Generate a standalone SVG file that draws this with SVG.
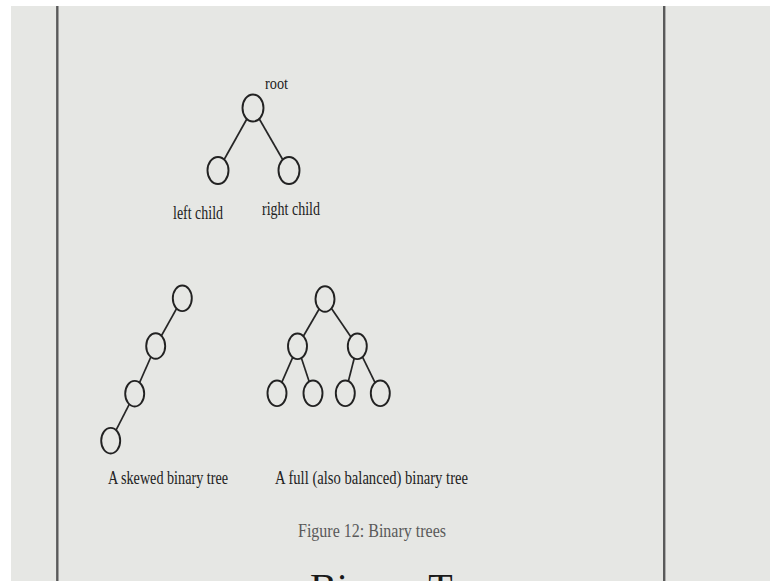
<svg xmlns="http://www.w3.org/2000/svg" width="770" height="581" viewBox="0 0 770 581">
<style>
.bg{fill:#e6e7e4}
.n{fill:#e6e7e4;stroke:#222222;stroke-width:1.9}
.e{stroke:#262626;stroke-width:1.7;fill:none}
.t{font-family:"Liberation Serif","Times New Roman",serif;fill:#222222}
.rule{stroke:#5a5a5a;stroke-width:2.4}
</style>
<rect width="770" height="581" fill="#ffffff"/>
<rect x="11" y="6" width="759" height="575" class="bg"/>
<line class="rule" x1="57.3" y1="6" x2="57.3" y2="581"/>
<line class="rule" x1="664.2" y1="6" x2="664.2" y2="581"/>

<g id="connectors">
  <line class="e" x1="253" y1="108" x2="218" y2="170.5"/>
  <line class="e" x1="253" y1="108" x2="289" y2="170.5"/>
  <line class="e" x1="182.3" y1="298.3" x2="155.7" y2="346"/>
  <line class="e" x1="155.7" y1="346" x2="134.7" y2="393.7"/>
  <line class="e" x1="134.7" y1="393.7" x2="110.7" y2="440.7"/>
  <line class="e" x1="325" y1="299" x2="297.5" y2="346.3"/>
  <line class="e" x1="325" y1="299" x2="357.3" y2="346.3"/>
  <line class="e" x1="297.5" y1="346.3" x2="277" y2="393.3"/>
  <line class="e" x1="297.5" y1="346.3" x2="313" y2="393.3"/>
  <line class="e" x1="357.3" y1="346.3" x2="345.3" y2="393.3"/>
  <line class="e" x1="357.3" y1="346.3" x2="380.3" y2="393.3"/>
</g>

<g id="root"><ellipse class="n" cx="253" cy="108" rx="10.5" ry="13.5"/><text class="t" x="265" y="89" font-size="16" textLength="23" lengthAdjust="spacingAndGlyphs">root</text></g>
<g id="left-child"><ellipse class="n" cx="218" cy="170.5" rx="10.5" ry="13.5"/><text class="t" x="173" y="219" font-size="19" textLength="50" lengthAdjust="spacingAndGlyphs">left child</text></g>
<g id="right-child"><ellipse class="n" cx="289" cy="170.5" rx="10.5" ry="13.5"/><text class="t" x="262" y="215" font-size="19" textLength="58" lengthAdjust="spacingAndGlyphs">right child</text></g>

<g id="skew-1"><ellipse class="n" cx="182.3" cy="298.3" rx="9.5" ry="12.8"/></g>
<g id="skew-2"><ellipse class="n" cx="155.7" cy="346" rx="9.5" ry="12.8"/></g>
<g id="skew-3"><ellipse class="n" cx="134.7" cy="393.7" rx="9.5" ry="12.8"/></g>
<g id="skew-4"><ellipse class="n" cx="110.7" cy="440.7" rx="9.5" ry="12.8"/></g>

<g id="full-root"><ellipse class="n" cx="325" cy="299" rx="9.5" ry="12.8"/></g>
<g id="full-l"><ellipse class="n" cx="297.5" cy="346.3" rx="9.5" ry="12.8"/></g>
<g id="full-r"><ellipse class="n" cx="357.3" cy="346.3" rx="9.5" ry="12.8"/></g>
<g id="full-ll"><ellipse class="n" cx="277" cy="393.3" rx="9.5" ry="12.8"/></g>
<g id="full-lr"><ellipse class="n" cx="313" cy="393.3" rx="9.5" ry="12.8"/></g>
<g id="full-rl"><ellipse class="n" cx="345.3" cy="393.3" rx="9.5" ry="12.8"/></g>
<g id="full-rr"><ellipse class="n" cx="380.3" cy="393.3" rx="9.5" ry="12.8"/></g>

<g id="captions">
  <text class="t" x="108" y="484" font-size="18" textLength="120" lengthAdjust="spacingAndGlyphs">A skewed binary tree</text>
  <text class="t" x="275" y="484" font-size="18" textLength="193" lengthAdjust="spacingAndGlyphs">A full (also balanced) binary tree</text>
  <text class="t" x="298" y="537" font-size="18" textLength="148" lengthAdjust="spacingAndGlyphs" style="fill:#5a5a5a">Figure 12: Binary trees</text>
  <text class="t" x="310" y="600.5" font-size="40" style="fill:#1a1a1a">Binary T</text>
</g>
</svg>
